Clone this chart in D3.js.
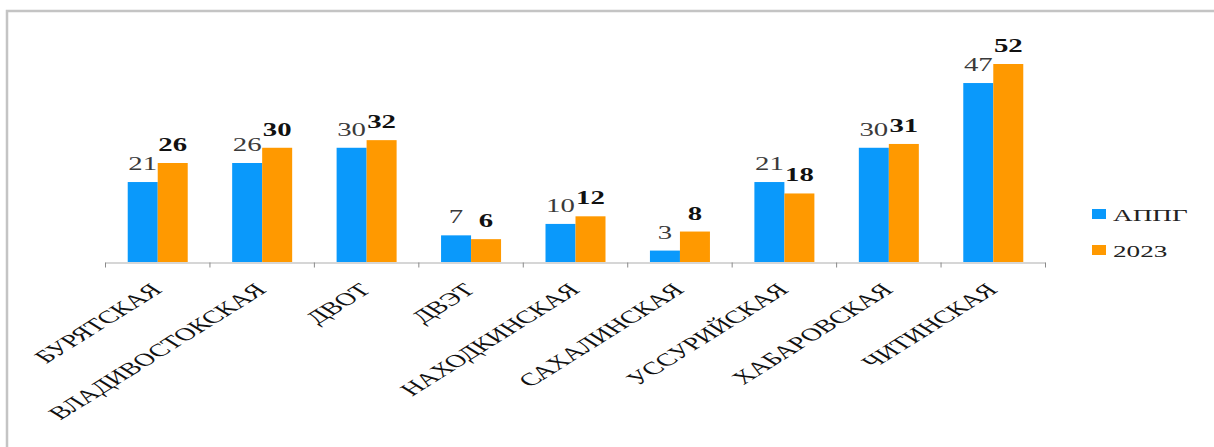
<!DOCTYPE html>
<html>
<head>
<meta charset="utf-8">
<script src="https://cdn.jsdelivr.net/npm/d3@7"></script>
<style>
  html, body { margin: 0; padding: 0; background: #fff; }
  svg { display: block; }
</style>
</head>
<body>
<svg id="chart" width="1214" height="447"></svg>
<script>
const categories = ["БУРЯТСКАЯ", "ВЛАДИВОСТОКСКАЯ", "ДВОТ", "ДВЭТ", "НАХОДКИНСКАЯ", "САХАЛИНСКАЯ", "УССУРИЙСКАЯ", "ХАБАРОВСКАЯ", "ЧИТИНСКАЯ"];
const seriesNames = ["АППГ", "2023"];
const valuesAPPG = [21, 26, 30, 7, 10, 3, 21, 30, 47];
const values2023 = [26, 30, 32, 6, 12, 8, 18, 31, 52];
const seriesColors = ["#0a99fb", "#ff9900"];

const FONT = "'Liberation Serif', 'Times New Roman', serif";

const series = [
  { name: seriesNames[0], values: valuesAPPG, color: seriesColors[0], weight: "normal", labelFill: "#3a3a3a" },
  { name: seriesNames[1], values: values2023, color: seriesColors[1], weight: "bold", labelFill: "#111" }
];

const SX = 1.6; // horizontal stretch of the original picture

const svg = d3.select("#chart").attr("font-family", FONT);

// frame
svg.append("path")
  .attr("d", "M7,447 V11 H1214")
  .attr("fill", "none")
  .attr("stroke", "#c4c4c4")
  .attr("stroke-width", 2.5);

const x = d3.scaleBand().domain(categories).range([105, 1045]);
const bw = x.bandwidth();
const groupW = 60;
const x1 = d3.scaleBand().domain(seriesNames).range([0, groupW]);
const y = d3.scaleLinear().domain([0, 52]).range([262, 64]);

// axis with ticks at band boundaries
const idx = d3.scaleLinear().domain([0, categories.length]).range(x.range());
const axisG = svg.append("g")
  .attr("transform", `translate(0,${y(0) + 0.5})`)
  .call(d3.axisBottom(idx).tickValues(d3.range(categories.length + 1)).tickFormat("").tickSizeInner(5).tickSizeOuter(0));
axisG.select(".domain").attr("stroke", "#c8c8c8").attr("stroke-width", 1.5);
axisG.selectAll(".tick line").attr("stroke", "#8a8a8a");

// bars
const groups = svg.append("g").selectAll("g")
  .data(categories)
  .join("g")
  .attr("transform", c => `translate(${x(c) + (bw - groupW) / 2 + 0.5},0)`);

series.forEach(s => {
  groups.append("rect")
    .attr("x", x1(s.name))
    .attr("width", x1.bandwidth())
    .attr("y", (c, i) => y(s.values[i]))
    .attr("height", (c, i) => y(0) - y(s.values[i]))
    .attr("fill", s.color);

  groups.append("text")
    .attr("transform", (c, i) => `translate(${x1(s.name) + x1.bandwidth() / 2},${y(s.values[i]) - 12}) scale(${SX},1)`)
    .attr("text-anchor", "middle")
    .style("font-family", FONT)
    .attr("font-size", 18)
    .attr("font-weight", s.weight)
    .attr("fill", s.labelFill)
    .text((c, i) => s.values[i]);
});

// category labels
svg.append("g").selectAll("text")
  .data(categories)
  .join("text")
  .attr("transform", c => `translate(${x(c) + bw / 2 + 6},291) scale(${SX},1) rotate(-45)`)
  .attr("text-anchor", "end")
  .style("font-family", FONT)
  .attr("font-size", 18)
  .attr("fill", "#111")
  .text(c => c);

// legend
const legend = svg.append("g");
series.forEach((s, i) => {
  const ly = 209 + i * 36;
  legend.append("rect")
    .attr("x", 1092).attr("y", ly)
    .attr("width", 14).attr("height", 10)
    .attr("fill", s.color);
  legend.append("text")
    .attr("transform", `translate(1113,${ly + 12}) scale(${SX},1)`)
    .style("font-family", FONT)
    .attr("font-size", 17)
    .attr("fill", "#222")
    .text(s.name);
});
</script>
</body>
</html>
